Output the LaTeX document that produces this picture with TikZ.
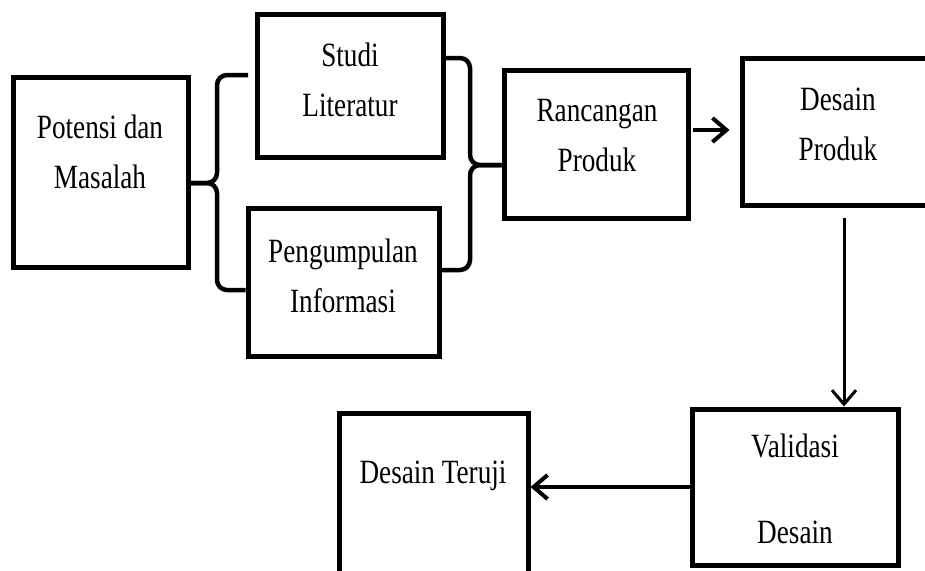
\documentclass[tikz,border=0pt]{standalone}
\usepackage{fontspec}
\setmainfont[FakeStretch=0.8]{Liberation Serif}
\usetikzlibrary{arrows.meta}

\begin{document}
\begin{tikzpicture}[x=1pt, y=-1pt,
    box/.style = {draw, line width=5pt, inner sep=0pt},
    txt/.style = {align=center, inner sep=0pt, font=\fontsize{34}{50}\selectfont},
    brace/.style = {line width=4.5pt, rounded corners=10pt},
    flow/.style = {line width=4pt, -{Straight Barb[length=14pt, width=24pt]}}
  ]
  \useasboundingbox (0,0) rectangle (925,570);

  % boxes at explicit pixel coordinates (y grows downwards)
  \node[box, minimum width=175pt, minimum height=190pt] (potensi)     at (100.5,172) {};
  \node[box, minimum width=186pt, minimum height=143pt] (studi)       at (350,85.5)  {};
  \node[box, minimum width=191pt, minimum height=148pt] (pengumpulan) at (343.5,282) {};
  \node[box, minimum width=184pt, minimum height=148pt] (rancangan)   at (596,144)   {};
  \node[box, minimum width=192pt, minimum height=147pt] (desainp)     at (838,131.5) {};
  \node[box, minimum width=206pt, minimum height=156pt] (validasi)    at (795,487)   {};
  \node[box, minimum width=189pt, minimum height=172pt] (teruji)      at (433.5,499) {};

  % texts, placed a little off centre as in the original
  \node[txt] (potensi-t)     at (100,152)   {Potensi dan\\Masalah};
  \node[txt] (studi-t)       at (350,80)    {Studi\\Literatur};
  \node[txt] (pengumpulan-t) at (343,276)   {Pengumpulan\\Informasi};
  \node[txt] (rancangan-t)   at (597,136)   {Rancangan\\Produk};
  \node[txt] (desainp-t)     at (838,124)   {Desain\\Produk};
  \node[txt] (validasi-t)    at (795,489)   {Validasi\\[36pt]Desain};
  \node[txt] (teruji-t)      at (433,476)   {Desain Teruji};

  % left brace: Potensi dan Masalah -> both studies
  \coordinate (lb) at (217,183);
  \coordinate (lbt) at (248,75);
  \coordinate (lbb) at (pengumpulan.west |- 0,290);
  \draw[brace] (lbt) -- (lb |- lbt) -- (lb) -- (potensi.east |- lb);
  \draw[brace] (lbb) -- (lb |- lbb) -- (lb) -- (potensi.east |- lb);

  % right brace: both studies -> Rancangan Produk
  \coordinate (rb) at (470,165);
  \coordinate (rbt) at (studi.east |- 0,58);
  \coordinate (rbb) at (pengumpulan.east |- 0,270);
  \draw[brace] (rbt) -- (rb |- rbt) -- (rb) -- (rancangan.west |- rb);
  \draw[brace] (rbb) -- (rb |- rbb) -- (rb) -- (rancangan.west |- rb);

  % arrows
  \draw[flow, shorten <=2pt, shorten >=10pt] (rancangan.east |- 0,130) -- (desainp.west |- 0,130);
  \coordinate (dn) at (844,218);
  \draw[flow, line width=3pt] (dn) -- (dn |- validasi.north);
  \draw[flow] (validasi.west) -- (teruji.east |- validasi.west);
\end{tikzpicture}
\end{document}
